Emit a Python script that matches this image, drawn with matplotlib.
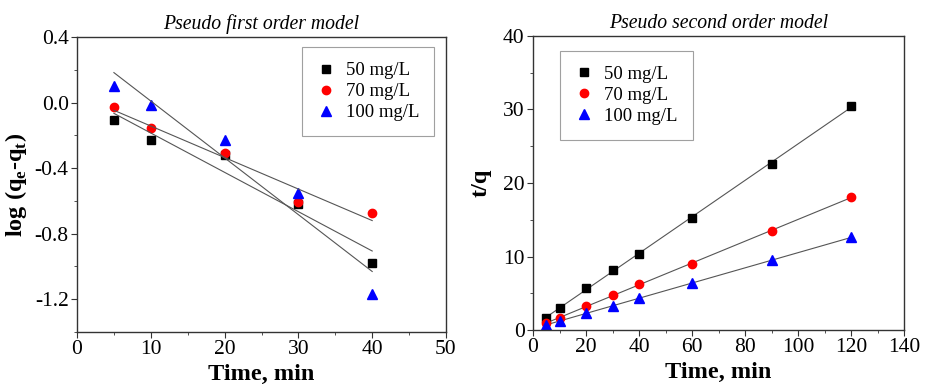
import numpy as np
import matplotlib
matplotlib.use("Agg")
import matplotlib.pyplot as plt
from matplotlib.ticker import MultipleLocator

plt.rcParams['font.family'] = ['Liberation Serif', 'DejaVu Serif']
plt.rcParams['mathtext.fontset'] = 'custom'
plt.rcParams['mathtext.rm'] = 'Liberation Serif'
plt.rcParams['mathtext.bf'] = 'Liberation Serif:bold'

series_labels = ["50 mg/L", "70 mg/L", "100 mg/L"]

# Pseudo first order
t1 = [5, 10, 20, 30, 40]
pf_50 = [-0.104, -0.227, -0.32, -0.62, -0.978]
pf_70 = [-0.03, -0.155, -0.31, -0.604, -0.675]
pf_100 = [0.10, -0.012, -0.227, -0.551, -1.17]

# Pseudo second order
t2 = [5, 10, 20, 30, 40, 60, 90, 120]
ps_50 = [1.6, 2.95, 5.75, 8.1, 10.4, 15.2, 22.65, 30.45]
ps_70 = [0.9, 1.7, 3.25, 4.7, 6.2, 9.0, 13.5, 18.07]
ps_100 = [0.7, 1.25, 2.25, 3.3, 4.3, 6.35, 9.5, 12.6]

colors = ['black', 'red', 'blue']
markers = ['s', 'o', '^']
msizes = [5.2, 6.0, 6.5]

fig = plt.figure(figsize=(9.25, 3.9), dpi=100)
W, H = 925, 390
ax1 = fig.add_axes([77/W, 1-332/H, (446-77)/W, (332-37)/H])
ax2 = fig.add_axes([533/W, 1-330/H, (904-533)/W, (330-36)/H])

def style(ax):
    for s in ax.spines.values():
        s.set_color('#333333')
        s.set_linewidth(1.0)
    ax.tick_params(which='both', direction='out', top=False, right=False,
                   labelsize=15.5, color='#333333', pad=2)
    ax.tick_params(which='major', length=4)
    ax.tick_params(which='minor', length=2.5)

leg_kw = dict(fontsize=13.5, frameon=True, fancybox=False, edgecolor='#888888',
              borderpad=0.8, handletextpad=0.55, handlelength=1.0,
              labelspacing=0.2, borderaxespad=0)

# Left
for y, c, m, ms, lab in zip([pf_50, pf_70, pf_100], colors, markers, msizes, series_labels):
    ax1.plot(t1, y, linestyle='none', marker=m, color=c, markersize=ms, label=lab)
for y in [pf_50, pf_70, pf_100]:
    k, b = np.polyfit(t1, y, 1)
    xs = np.array([t1[0], t1[-1]])
    ax1.plot(xs, k*xs + b, color='#555555', linewidth=0.8)
ax1.set_xlim(0, 50)
ax1.set_ylim(-1.4, 0.4)
ax1.xaxis.set_major_locator(MultipleLocator(10))
ax1.xaxis.set_minor_locator(MultipleLocator(5))
ax1.yaxis.set_major_locator(MultipleLocator(0.4))
ax1.yaxis.set_minor_locator(MultipleLocator(0.2))
ax1.yaxis.set_major_formatter(matplotlib.ticker.FuncFormatter(lambda v, p: f"{v:.1f}".replace('-0.0', '0.0')))
style(ax1)
ax1.set_xlabel("Time, min", fontsize=17.5, fontweight='bold', labelpad=3)
ax1.set_ylabel(r"log (q$_\mathbf{e}$-q$_\mathbf{t}$)", fontsize=17.5, fontweight='bold', labelpad=4)
ax1.set_title("Pseudo first order model", fontsize=14.2, style='italic', pad=6)
leg1 = ax1.legend(loc='upper right', bbox_to_anchor=(0.968, 0.965), **leg_kw)
leg1.get_frame().set_linewidth(0.8)

# Right
for y, c, m, ms, lab in zip([ps_50, ps_70, ps_100], colors, markers, msizes, series_labels):
    ax2.plot(t2, y, linestyle='none', marker=m, color=c, markersize=ms, label=lab)
for y in [ps_50, ps_70, ps_100]:
    k, b = np.polyfit(t2, y, 1)
    xs = np.array([t2[0], t2[-1]])
    ax2.plot(xs, k*xs + b, color='#555555', linewidth=0.8, zorder=1)
ax2.set_xlim(0, 140)
ax2.set_ylim(0, 40)
ax2.xaxis.set_major_locator(MultipleLocator(20))
ax2.xaxis.set_minor_locator(MultipleLocator(10))
ax2.yaxis.set_major_locator(MultipleLocator(10))
ax2.yaxis.set_minor_locator(MultipleLocator(5))
style(ax2)
ax2.set_xlabel("Time, min", fontsize=17.5, fontweight='bold', labelpad=3)
ax2.set_ylabel("t/q", fontsize=17.5, fontweight='bold', labelpad=8)
ax2.set_title("Pseudo second order model", fontsize=14.2, style='italic', pad=6)
leg2 = ax2.legend(loc='upper left', bbox_to_anchor=(0.073, 0.95), **leg_kw)
leg2.get_frame().set_linewidth(0.8)

fig.savefig("out.png", dpi=100)
